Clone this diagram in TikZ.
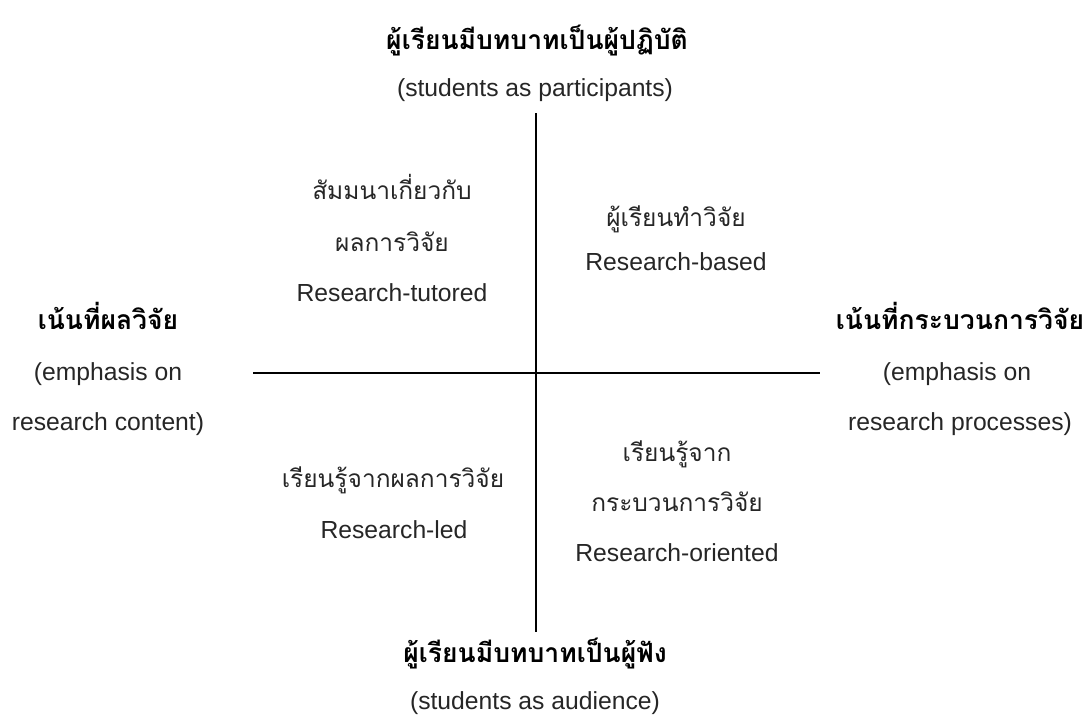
\documentclass[tikz,border=0pt]{standalone}
\usepackage{fontspec}
\setmainfont{Liberation Sans}
\newfontfamily\thaifont[Script=Thai]{Loma}
\tikzset{
  lat/.style={anchor=base, text=black!85, font=\fontsize{24.7}{28}\selectfont, inner sep=0pt},
  th/.style={anchor=base, text=black!85, font=\thaifont\fontsize{24.5}{28}\selectfont, inner sep=0pt},
  thb/.style={anchor=base, text=black, font=\thaifont\bfseries\fontsize{26.5}{30}\selectfont, inner sep=0pt},
  axis/.style={line width=1.6pt, black}
}
\begin{document}
\begin{tikzpicture}[x=1pt,y=1pt]
\useasboundingbox (0,0) rectangle (1085,-716);
% axes
\coordinate (vt) at (536,-113);
\coordinate (vb) at (536,-632);
\coordinate (hl) at (253,-373);
\coordinate (hr) at (820,-373);
\draw[axis] (vt) -- (vb);
\draw[axis] (hl) -- (hr);
% top
\node[thb] (toptitle) at (537,-49) {ผู้เรียนมีบทบาทเป็นผู้ปฏิบัติ};
\node[lat] (topsub) at (535,-96) {(students as participants)};
% bottom
\node[thb] (bottitle) at (535,-662) {ผู้เรียนมีบทบาทเป็นผู้ฟัง};
\node[lat] (botsub) at (535,-709) {(students as audience)};
% left
\node[thb] (lefttitle) at (108,-329) {เน้นที่ผลวิจัย};
\node[lat] (leftsub1) at (108,-380) {(emphasis on};
\node[lat] (leftsub2) at (108,-430) {research content)};
% right
\node[thb] (righttitle) at (960,-329) {เน้นที่กระบวนการวิจัย};
\node[lat] (rightsub1) at (957,-380) {(emphasis on};
\node[lat] (rightsub2) at (960,-430) {research processes)};
% quadrants
\node[th] (q1a) at (392,-199) {สัมมนาเกี่ยวกับ};
\node[th] (q1b) at (392,-251) {ผลการวิจัย};
\node[lat] (q1c) at (392,-301) {Research-tutored};
\node[th] (q2a) at (676,-226) {ผู้เรียนทำวิจัย};
\node[lat] (q2b) at (676,-270) {Research-based};
\node[th] (q3a) at (393,-487) {เรียนรู้จากผลการวิจัย};
\node[lat] (q3b) at (394,-538) {Research-led};
\node[th] (q4a) at (677,-461) {เรียนรู้จาก};
\node[th] (q4b) at (677,-511) {กระบวนการวิจัย};
\node[lat] (q4c) at (677,-561) {Research-oriented};
\end{tikzpicture}
\end{document}
